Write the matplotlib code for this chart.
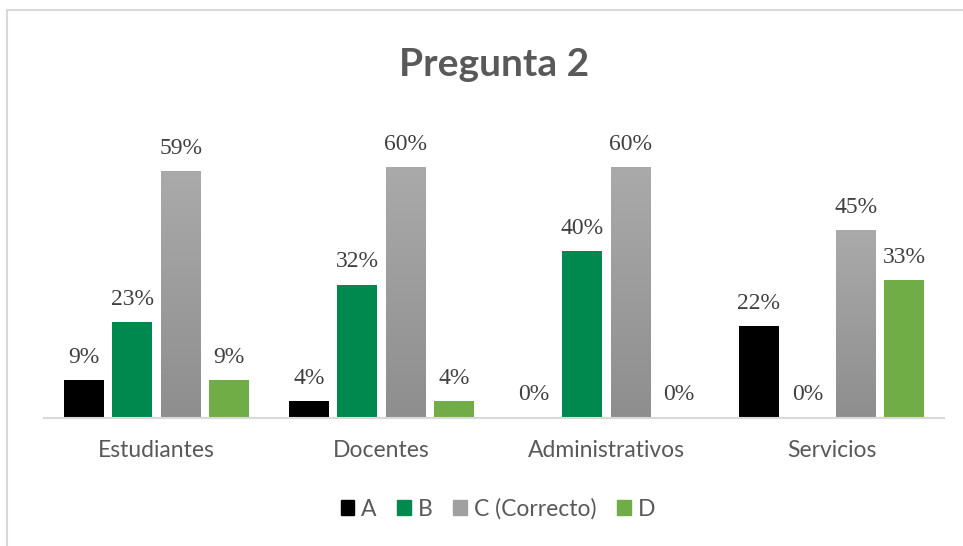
import numpy as np
import matplotlib
matplotlib.use("Agg")
import matplotlib.pyplot as plt
from matplotlib.patches import Rectangle

categories = ["Estudiantes", "Docentes", "Administrativos", "Servicios"]
series = ["A", "B", "C (Correcto)", "D"]
val_a = [0.09, 0.04, 0.00, 0.22]
val_b = [0.23, 0.32, 0.40, 0.00]
val_c = [0.59, 0.60, 0.60, 0.45]
val_d = [0.09, 0.04, 0.00, 0.33]

colors = ["#000000", "#00894f", "#a0a0a0", "#70ad47"]
text_gray = "#595959"

W, H = 963, 546
fig = plt.figure(figsize=(W / 100, H / 100), dpi=100)

# chart frame
fig.patches.append(Rectangle((7 / W, -0.1), 1.2, (H - 10) / H + 0.1,
                             transform=fig.transFigure, fill=False,
                             edgecolor="#d9d9d9", linewidth=1.5))

ax = fig.add_axes([44 / W, (H - 418) / H, 900 / W, 292 / H])

x = np.arange(len(categories))
step = 48.5 / 225
width = 40 / 225
all_vals = [val_a, val_b, val_c, val_d]

for i, (name, vals) in enumerate(zip(series, all_vals)):
    pos = x + (i - 1.5) * step
    bars = ax.bar(pos, vals, width, color=colors[i], label=name, zorder=2)
    if i == 2:
        # soft vertical gradient on the "correct" series
        grad = np.linspace(0, 1, 256).reshape(-1, 1)
        cmap = matplotlib.colors.LinearSegmentedColormap.from_list(
            "g", ["#8e8e8e", "#aaaaaa"])
        for b in bars:
            b.set_alpha(0)
            ax.imshow(grad, cmap=cmap, aspect="auto", origin="lower",
                      extent=(b.get_x(), b.get_x() + b.get_width(), 0, b.get_height()),
                      zorder=2)
    for xp, v in zip(pos, vals):
        ax.text(xp, v + 0.03, f"{v * 100:.0f}%", ha="center", va="bottom",
                family=["Liberation Serif", "DejaVu Serif"], fontsize=17,
                color="#404040")

ax.set_xlim(-0.5, 3.5)
ax.set_ylim(0, 0.70)
for s in ["top", "right", "left"]:
    ax.spines[s].set_visible(False)
ax.spines["bottom"].set_color("#d9d9d9")
ax.spines["bottom"].set_linewidth(1.5)
ax.set_yticks([])
ax.set_xticks(x)
ax.set_xticklabels(categories, family="Lato", fontsize=16.5, color=text_gray)
ax.tick_params(axis="x", length=0, pad=16)

fig.text(494 / W, 1 - 65 / H, "Pregunta 2", ha="center", va="center",
         family="Lato", fontweight="bold", fontsize=28, color=text_gray)

leg = fig.legend(loc="center", bbox_to_anchor=(498 / W, 1 - 509 / H), ncol=4,
                 frameon=False, prop={"family": "Lato", "size": 16.5},
                 handlelength=0.6, handleheight=0.6, handletextpad=0.3,
                 columnspacing=0.9)
for t in leg.get_texts():
    t.set_color(text_gray)
for h, c in zip(leg.legend_handles, colors):
    h.set_alpha(1)
    h.set_color(c)

fig.savefig("out.png", dpi=100)
